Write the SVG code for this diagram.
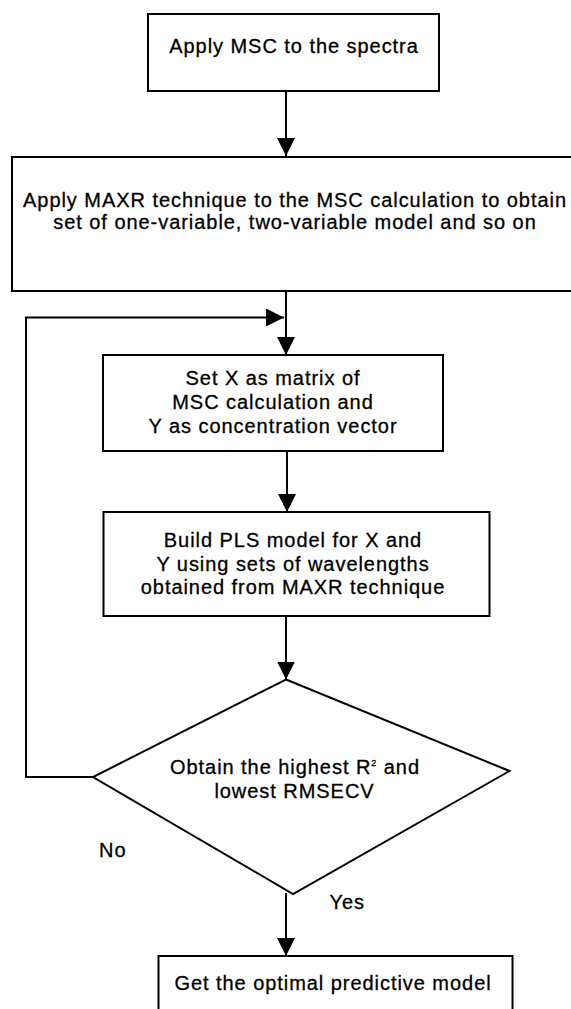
<svg xmlns="http://www.w3.org/2000/svg" width="571" height="1009" viewBox="0 0 571 1009">
  <style>
    .box { fill: #ffffff; stroke: #000000; stroke-width: 2; }
    .conn { fill: none; stroke: #000000; stroke-width: 2; }
    .t { font-family: "Liberation Sans", Arial, sans-serif; font-size: 20px; letter-spacing: 0.95px; fill: #000000; stroke: #000000; stroke-width: 0.3px; text-anchor: middle; }
    .lbl { font-family: "Liberation Sans", Arial, sans-serif; font-size: 20px; letter-spacing: 0.95px; fill: #000000; stroke: #000000; stroke-width: 0.3px; }
  </style>
  <defs>
    <marker id="arrow" markerWidth="18" markerHeight="18" refX="18" refY="9" orient="auto" markerUnits="userSpaceOnUse">
      <path d="M0,0 L18,9 L0,18 Z" fill="#000000"/>
    </marker>
  </defs>
  <rect x="0" y="0" width="571" height="1009" fill="#ffffff"/>

  <g id="connectors">
    <line class="conn" x1="286" y1="91" x2="286" y2="156" marker-end="url(#arrow)"/>
    <line class="conn" x1="286" y1="291" x2="286" y2="355" marker-end="url(#arrow)"/>
    <path class="conn" d="M93,777 L26,777 L26,317.5 L284,317.5" marker-end="url(#arrow)"/>
    <line class="conn" x1="287" y1="451" x2="287" y2="512" marker-end="url(#arrow)"/>
    <line class="conn" x1="286" y1="616" x2="286" y2="679.5" marker-end="url(#arrow)"/>
    <line class="conn" x1="286" y1="893" x2="286" y2="956" marker-end="url(#arrow)"/>
  </g>

  <g id="n1">
    <rect class="box" x="148" y="14" width="291" height="77"/>
    <text class="t" x="294" y="53">Apply MSC to the spectra</text>
  </g>

  <g id="n2">
    <rect class="box" x="12" y="157" width="580" height="134"/>
    <text class="t" x="295" y="206.5">Apply MAXR technique to the MSC calculation to obtain</text>
    <text class="t" x="295" y="229">set of one-variable, two-variable model and so on</text>
  </g>

  <g id="n3">
    <rect class="box" x="103" y="355" width="340" height="96"/>
    <text class="t" x="273" y="385">Set X as matrix of</text>
    <text class="t" x="273" y="408.5">MSC calculation and</text>
    <text class="t" x="273" y="432.5">Y as concentration vector</text>
  </g>

  <g id="n4">
    <rect class="box" x="103.5" y="512" width="386" height="104"/>
    <text class="t" x="293" y="547">Build PLS model for X and</text>
    <text class="t" x="293" y="570.5">Y using sets of wavelengths</text>
    <text class="t" x="293" y="594">obtained from MAXR technique</text>
  </g>

  <g id="n5">
    <polygon class="box" points="286,679.5 509.5,771 293,894 93,777"/>
    <text class="t" x="295" y="774">Obtain the highest R<tspan font-size="9" dy="-8">2</tspan><tspan dy="8"> and</tspan></text>
    <text class="t" x="294.5" y="797.5">lowest RMSECV</text>
  </g>

  <g id="n6">
    <rect class="box" x="158.5" y="956" width="354" height="80"/>
    <text class="t" x="333" y="989.5">Get the optimal predictive model</text>
  </g>

  <g id="labels">
    <text class="lbl" x="99" y="857">No</text>
    <text class="lbl" x="329.5" y="909">Yes</text>
  </g>
</svg>
